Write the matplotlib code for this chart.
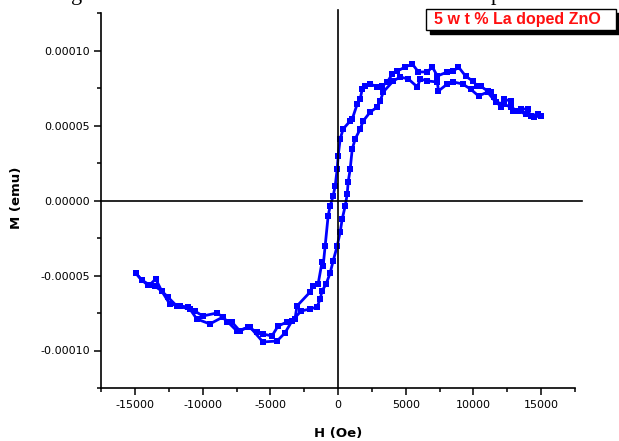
import matplotlib
matplotlib.use("Agg")
import matplotlib.pyplot as plt
from matplotlib.patches import Rectangle
from matplotlib.ticker import MultipleLocator, FormatStrFormatter

# -------------
# Data
# -------------
# ascending branch, -15000 Oe -> +15000 Oe
h_up = [-14960, -14520, -14070, -13560, -13040, -12590, -11930, -10960, -10440, -9480,
        -8520, -7480, -6520, -5560, -4520, -3930, -3410, -2740, -2070, -1560,
        -1330, -1190, -890, -590, -370, -70, 150, 300, 520, 670,
        740, 890, 1040, 1260, 1630, 1850, 2370, 2890, 3110, 3330,
        4070, 4590, 5190, 5850, 6070, 6590, 7330, 7410, 8070, 8520,
        9190, 9780, 10370, 11040, 11630, 12220, 12740, 13260, 13850, 14440, 14960]
m_up = [-4.83, -5.30, -5.63, -5.70, -6.03, -6.43, -7.03, -7.23, -7.90, -8.23,
        -7.77, -8.70, -8.43, -9.43, -9.37, -8.83, -8.03, -7.37, -7.23, -7.10,
        -6.57, -6.03, -5.57, -4.83, -4.03, -3.03, -2.10, -1.23, -0.37, 0.43,
        1.23, 2.10, 3.43, 4.10, 4.77, 5.30, 5.90, 6.23, 6.63, 7.23,
        7.97, 8.23, 8.10, 7.57, 8.10, 7.97, 7.90, 7.30, 7.77, 7.90,
        7.77, 7.43, 6.97, 7.23, 6.57, 6.43, 6.23, 5.97, 5.77, 5.57, 5.63]

# descending branch, +15000 Oe -> -15000 Oe
h_down = [14960, 14740, 14220, 14000, 13480, 12890, 12740, 12220, 12000, 11480,
          11260, 11040, 10520, 10290, 9930, 9410, 8890, 8520, 8070, 7330,
          6960, 6590, 5930, 5480, 4960, 4370, 4000, 3630, 3260, 2890,
          2370, 2000, 1780, 1630, 1410, 1040, 890, 370, 150, 0,
          -70, -220, -370, -590, -740, -960, -1110, -1190, -1480, -1850,
          -2070, -3040, -3190, -3780, -4440, -4890, -5560, -6000, -6670, -7260,
          -7850, -8220, -8520, -8960, -10000, -10590, -11110, -11700, -12440, -13040,
          -13480, -13930, -14520, -14960]
m_down = [5.63, 5.77, 5.63, 6.10, 6.10, 5.97, 6.63, 6.77, 6.23, 6.90,
          7.23, 7.30, 7.63, 7.63, 7.97, 8.30, 8.90, 8.63, 8.57, 8.30,
          8.90, 8.57, 8.57, 9.10, 8.90, 8.63, 8.43, 7.90, 7.63, 7.57,
          7.77, 7.63, 7.43, 6.77, 6.43, 5.43, 5.30, 4.77, 4.10, 2.97,
          2.10, 0.97, 0.30, -0.37, -1.03, -3.03, -4.37, -4.10, -5.57, -5.70,
          -6.10, -7.03, -7.90, -8.10, -8.37, -9.03, -8.90, -8.77, -8.43, -8.70,
          -8.10, -8.10, -7.77, -7.50, -7.70, -7.37, -7.10, -7.03, -6.90, -6.03,
          -5.23, -5.63, -5.30, -4.83]

label_text = "5 w t % La doped ZnO"

# -------------
# Drawing plot
# -------------
plt.rcParams["font.family"] = "DejaVu Sans"
plt.rcParams["axes.unicode_minus"] = False

fig = plt.figure(figsize=(6.19, 4.41), dpi=100)
ax = fig.add_axes([101.3 / 619, 1 - 388 / 441, (575 - 101.3) / 619, (388 - 13) / 441])

blue = "#0000ff"
ax.plot(h_up, [v * 1e-5 for v in m_up], "-s", color=blue, lw=2.0, ms=4.4, mew=0)
ax.plot(h_down, [v * 1e-5 for v in m_down], "-s", color=blue, lw=2.0, ms=4.4, mew=0)

ax.set_xlim(-17500, 17500)
ax.set_ylim(-0.000125, 0.000125)

ax.axhline(0, xmin=0, xmax=1.015, color="black", lw=1.2, clip_on=False, zorder=3)
ax.axvline(0, ymin=0, ymax=1.008, color="black", lw=1.2, clip_on=False, zorder=3)

ax.spines["top"].set_visible(False)
ax.spines["right"].set_visible(False)
ax.spines["left"].set_linewidth(1.2)
ax.spines["bottom"].set_linewidth(1.2)

ax.xaxis.set_major_locator(MultipleLocator(5000))
ax.xaxis.set_minor_locator(MultipleLocator(2500))
ax.yaxis.set_major_locator(MultipleLocator(0.00005))
ax.yaxis.set_minor_locator(MultipleLocator(0.000025))
ax.yaxis.set_major_formatter(FormatStrFormatter("%.5f"))
ax.xaxis.set_major_formatter(FormatStrFormatter("%d"))

ax.tick_params(which="major", direction="out", length=5, width=1.1, labelsize=8, pad=3)
ax.tick_params(which="minor", direction="out", length=3, width=1.1)
ax.tick_params(axis="x", which="major", pad=4)

ax.set_xlabel("H (Oe)", fontsize=9.5, fontweight="bold")
ax.set_ylabel("M (emu)", fontsize=9.5, fontweight="bold")
ax.xaxis.set_label_coords(0.501, -0.105)
ax.yaxis.set_label_coords(-0.165, 0.507)

# boxed label with drop shadow
fig.patches.append(Rectangle((430 / 619, 1 - 34 / 441), 190 / 619, 21 / 441,
                             transform=fig.transFigure, facecolor="black",
                             edgecolor="black", zorder=5))
fig.patches.append(Rectangle((426 / 619, 1 - 30 / 441), 190 / 619, 21 / 441,
                             transform=fig.transFigure, facecolor="white",
                             edgecolor="black", lw=1.0, zorder=6))
fig.text(517.5 / 619, 1 - 19.5 / 441, label_text, color="#ff1010",
         family="Liberation Sans", fontweight="bold", fontsize=11.5,
         ha="center", va="center", zorder=7)

# cut-off caption letters at the top edge
fig.text(77 / 619, 1.0, "g", family="Liberation Serif", fontsize=16,
         ha="center", va="baseline")
fig.text(496 / 619, 1.0, "p", family="Liberation Serif", fontsize=16,
         ha="center", va="baseline")

fig.savefig("out.png", dpi=100)
